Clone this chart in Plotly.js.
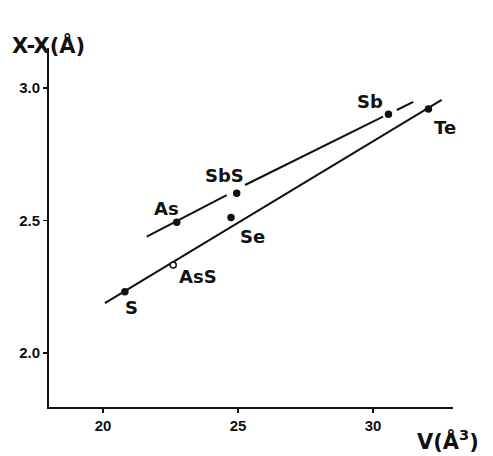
<!DOCTYPE html>
<html><head><meta charset="utf-8">
<script src="https://cdn.plot.ly/plotly-3.0.1.min.js"></script>
<style>html,body{margin:0;padding:0;background:#fff}#chart{width:493px;height:456px}</style>
</head><body><div id="chart"></div>
<script>
// data
const names = ['S', 'AsS', 'As', 'Se', 'SbS', 'Sb', 'Te'];
const volume = [20.81, 22.60, 22.73, 24.74, 24.95, 30.57, 32.05];
const bondLength = [2.231, 2.332, 2.493, 2.511, 2.603, 2.901, 2.921];
const openPoint = [false, true, false, false, false, false, false];

const lowerLineX = [20.07, 32.54];
const lowerLineY = [2.188, 2.955];
const upperLineX = [21.62, 24.58, null, 25.26, 30.37, null, 30.88, 31.49];
const upperLineY = [2.439, 2.596, null, 2.634, 2.892, null, 2.917, 2.948];

const xTicks = [20, 25, 30];
const xTickText = ['20', '25', '30'];
const yTicks = [2.0, 2.5, 3.0];
const yTickText = ['2.0', '2.5', '3.0'];

// label offsets in pixels (presentation only)
const labelDx = [7, 25, -10, 21, -12, -18, 17];
const labelDy = [-16, -12, 14, -19, 18, 13, -19];

const lineStyle = {color: '#111', width: 2};
const traces = [
  {x: lowerLineX, y: lowerLineY, mode: 'lines', line: lineStyle, hoverinfo: 'skip'},
  {x: upperLineX, y: upperLineY, mode: 'lines', line: lineStyle, connectgaps: false, hoverinfo: 'skip'},
  {x: volume, y: bondLength, mode: 'markers',
   marker: {size: 6, color: openPoint.map(o => o ? '#fff' : '#111'),
            line: {color: '#111', width: 1.5}}}
];

const labelFont = {family: 'DejaVu Sans', size: 18, color: '#111', weight: 700};
const annotations = names.map((n, i) => ({
  x: volume[i], y: bondLength[i], xref: 'x', yref: 'y', text: n, showarrow: false,
  xshift: labelDx[i], yshift: labelDy[i], font: labelFont,
  xanchor: 'center', yanchor: 'middle'
}));
annotations.push({xref: 'paper', yref: 'paper', x: -0.097, y: 1.008, xanchor: 'left', yanchor: 'middle',
  text: 'X-X(Å)', showarrow: false, font: {family: 'DejaVu Sans', size: 21, color: '#111', weight: 700}});
annotations.push({xref: 'paper', yref: 'paper', x: 0.906, y: -0.092, xanchor: 'left', yanchor: 'middle',
  text: 'V(Å<sup>3</sup>)', showarrow: false, font: {family: 'DejaVu Sans', size: 21, color: '#111', weight: 700}});

const axisCommon = {showgrid: false, zeroline: false, showline: true, linecolor: '#111', linewidth: 2,
  ticks: 'outside', ticklen: 4, tickwidth: 1.5, tickcolor: '#111',
  tickfont: {family: 'Liberation Sans', size: 15, color: '#111', weight: 700}, tickmode: 'array'};

const layout = {
  width: 493, height: 456, showlegend: false,
  paper_bgcolor: '#fff', plot_bgcolor: '#fff',
  margin: {l: 49, r: 40, t: 48, b: 49},
  xaxis: Object.assign({}, axisCommon, {range: [18, 32.96], tickvals: xTicks, ticktext: xTickText}),
  yaxis: Object.assign({}, axisCommon, {range: [1.796, 3.151], tickvals: yTicks, ticktext: yTickText}),
  annotations: annotations
};
Plotly.newPlot('chart', traces, layout, {displayModeBar: false, staticPlot: true});
</script></body></html>
